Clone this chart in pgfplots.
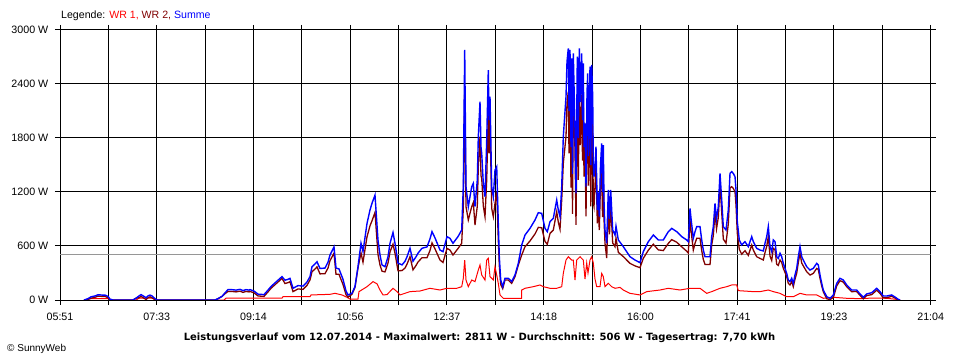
\documentclass[border=0pt]{standalone}
\usepackage{fontspec}
\setmainfont{Liberation Sans}
\newfontfamily\titlefont{DejaVu Sans}
\usepackage{pgfplots}
\usepackage{pgfplotstable}
\pgfplotsset{compat=1.18}
\definecolor{wrone}{RGB}{255,0,0}
\definecolor{wrtwo}{RGB}{128,0,0}
\definecolor{summe}{RGB}{0,0,255}
\definecolor{avgc}{RGB}{150,150,150}

% x = position on the time axis (05:51 ... 21:04 mapped to 60 ... 930.7), y = power in W
\pgfplotstableread{
x y
84 0
88 15
91 35
95 45
98 58
102 55
105 55
108 40
110 10
113 0
133 0
136 20
139 45
141 60
144 40
146 25
148 45
150 55
152 45
155 15
157 0
215 0
218 15
222 40
225 80
228 115
232 115
236 110
240 118
243 105
246 115
249 110
250 115
254 100
258 65
264 60
268 110
271 150
275 190
279 230
282 260
285 220
288 230
290 240
293 130
298 160
303 155
307 200
310 260
312 370
315 400
317 425
320 350
325 355
328 420
330 500
334 590
336 355
339 345
343 230
346 100
348 55
352 75
355 150
358 370
361 630
363 540
367 850
370 1000
372 1075
375 1165
378 665
380 500
382 390
385 370
388 480
390 630
393 750
395 630
398 410
402 390
405 430
407 480
410 575
413 430
416 480
418 520
422 575
427 590
430 680
432 760
435 690
440 555
443 537
447 704
450 685
453 630
458 704
461.7 778
463.3 1259
464.7 2778
466 1259
468.3 1037
470 1150
471.7 1259
473.3 1296
475 1037
477.3 1333
478.3 1815
480 2204
481 1700
481.7 1630
483.3 1296
485 1148
486.7 1778
488.3 2555
489 2000
490 2259
491.7 1259
493.3 1148
495 1444
496.7 1481
498.3 852
499.3 481
500.7 222
502.7 148
505 241
508.3 241
511.7 204
515 278
518.3 407
521.7 611
525 722
530 796
535 889
538.3 970
541.7 963
545 796
547.3 759
550 870
553.3 907
556.7 1111
558.3 1000
560 926
561.7 1259
563.3 1815
566 2259
567 2650
568.3 2796
569 2100
570 2778
571 1700
571.7 2685
572.5 1400
573.3 2741
575 1889
576 1185
577.3 2704
578.3 1800
579.3 2796
580.3 2200
581.7 2741
582.5 2000
583.3 2630
584 1700
585 1963
586 1259
587 2300
587.7 2519
588.5 1600
590 2593
590.8 1500
591.7 2611
592.7 2259
593.3 1500
594 1370
595 1500
596 1704
597.3 1000
598 1200
599.3 926
600.5 1500
601.7 1741
602.5 1200
603.3 1722
604 1100
605 778
606.7 630
608.3 1222
609.5 900
610.7 1222
612.7 778
615 722
616 820
618.3 667
623.3 593
630 481
635 444
640 415
643.3 537
648.3 648
653.3 722
658.3 667
663.3 667
668.3 759
671.7 796
676.7 759
681.7 704
686.7 667
688.3 648
690 1018
691 907
693.3 685
695 759
696.7 815
700 815
701.7 667
703.3 555
705 481
710 481
711.7 704
713.3 815
715 1074
716.5 900
718.3 1037
720 1407
721.7 1111
723.3 815
726 778
728.3 1000
730 1407
731.7 1426
733.3 1407
735 1370
736 1222
737.3 870
739.3 667
741.7 611
745 648
748.3 593
751.7 704
753.3 648
756.7 574
760 555
763.3 545
765 630
766.7 704
768.3 815
770 593
771.7 537
773.3 667
775 648
776.7 481
778.3 463
780 519
781.7 481
783.3 407
785 352
786.7 296
788.3 222
790 204
791.7 241
793.3 185
795 278
796.7 352
798.3 481
800 593
801.7 481
803.3 444
806.7 370
810 333
813.3 352
816.7 407
818.3 389
820 278
821.7 185
823.3 111
826.7 37
830 19
833.3 56
836.7 185
840 241
843.3 222
846.7 167
851.7 111
856.7 111
860 67
863.3 30
866.7 67
871.7 81
876.7 130
880 93
883.3 44
886.7 44
891.7 56
895 33
898.3 7
900 0
}\summetable

\pgfplotstableread{
x y
84 0
88 5
91 20
95 30
98 43
102 40
105 40
108 25
110 0
113 0
133 0
136 20
139 25
141 40
144 20
146 5
148 25
150 35
152 25
155 5
157 0
215 0
218 15
222 40
225 70
228 95
232 95
236 90
240 98
243 85
246 95
249 90
250 95
254 80
258 45
264 40
268 90
271 130
275 170
279 210
282 240
285 183
288 193
290 203
293 93
298 123
303 118
307 163
310 223
312 314
315 344
317 368
320 290
325 293
328 355
330 437
334 520
336 285
339 285
343 172
346 60
348 30
352 64
355 139
358 359
361 523
363 420
367 702
370 824
372 880
375 973
378 505
380 389
382 320
385 312
388 410
390 535
393 620
395 520
398 325
402 327
405 355
407 398
410 482
413 335
416 383
418 422
422 470
427 470
430 550
432 634
435 568
440 444
443 417
447 574
450 555
453 500
458 572
461.7 630
463.3 1018
464.7 2334
466 1037
468.3 889
470 965
471.7 1037
473.3 1083
475 833
477.3 1043
478.3 1482
480 1815
481 1380
481.7 1352
483.3 1046
485 926
486.7 1334
488.3 2092
489 1630
490 2000
491.7 1018
493.3 926
495 1074
496.7 1203
498.3 667
499.3 381
500.7 172
502.7 126
505 222
508.3 222
511.7 185
515 259
518.3 388
521.7 500
525 592
530 656
535 734
538.3 807
541.7 803
545 651
547.3 619
550 740
553.3 777
556.7 981
558.3 865
560 786
561.7 1111
563.3 1519
566 1815
567 2190
568.3 2315
569 1630
570 2318
571 1250
571.7 2241
572.5 956
573.3 2297
575 1667
576 835
577.3 2254
578.3 1335
579.3 2318
580.3 1720
581.7 2281
582.5 1550
583.3 2186
584 1370
585 1730
586 929
587 1920
587.7 2169
588.5 1270
590 2149
590.8 1040
591.7 2130
592.7 1819
593.3 1089
594 1040
595 1267
596 1524
597.3 852
598 1052
599.3 778
600.5 1300
601.7 1445
602.5 922
603.3 1463
604 900
605 630
606.7 465
608.3 1037
609.5 730
610.7 1062
612.7 633
615 592
616 688
618.3 530
623.3 482
630 407
635 379
640 359
643.3 463
648.3 553
653.3 620
658.3 557
663.3 549
668.3 629
671.7 671
676.7 642
681.7 591
686.7 542
688.3 521
690 888
691 777
693.3 555
695 629
696.7 685
700 685
701.7 550
703.3 451
705 395
710 394
711.7 611
713.3 717
715 970
716.5 790
718.3 917
720 1277
721.7 977
723.3 677
726 632
728.3 846
730 1247
731.7 1259
733.3 1240
735 1203
736 1055
737.3 740
739.3 563
741.7 509
745 548
748.3 496
751.7 610
753.3 555
756.7 481
760 462
763.3 445
765 526
766.7 596
768.3 704
770 488
771.7 439
773.3 574
775 558
776.7 397
778.3 384
780 445
781.7 416
783.3 352
785 306
786.7 259
788.3 185
790 167
791.7 204
793.3 148
795 232
796.7 297
798.3 416
800 519
801.7 411
803.3 379
806.7 314
810 277
813.3 296
816.7 351
818.3 339
820 240
821.7 157
823.3 92
826.7 14
830 5
833.3 26
836.7 157
840 215
843.3 199
846.7 148
851.7 93
856.7 94
860 52
863.3 13
866.7 49
871.7 60
876.7 109
880 73
883.3 24
886.7 25
891.7 41
895 22
898.3 2
900 0
}\wrtwotable

\pgfplotstableread{
x y
84 0
90 15
108 15
112 0
136 0
139 20
152 20
156 0
224 0
226 20
282 20
283 37
310 37
311 56
330 63
335 74
342 56
347 30
350 11
358 11
359 93
367 148
373 204
377 180
380 111
383 56
387 60
393 130
397 93
400 56
410 93
420 100
430 130
440 111
446.7 130
456.7 130
461.7 148
463.3 241
464.7 444
466 222
468.3 148
471.7 222
475 204
478.3 333
480 389
481.7 278
485 222
486.7 444
488.3 463
490 259
491.7 241
493.3 222
495 370
496.7 278
498.3 185
500 56
503.3 19
521.5 19
521.7 111
525 130
533.3 148
540 167
543.3 148
550 130
556.7 130
561.7 148
563.3 296
566 444
568.3 481
571.7 444
573.3 444
575 222
576.7 444
580 481
583.3 444
585 233
586.7 411
588 300
590 444
591.7 481
593.3 411
595 233
596.7 148
600 148
601.7 296
603.3 259
605 148
608.3 185
611.7 148
615 130
620 140
623.3 111
630 74
640 56
646.7 93
660 111
668.3 130
680 111
690 130
700 130
706.7 74
711.7 93
720 130
726.7 148
731.7 167
736.7 167
738.3 104
753.3 93
760 93
768.3 111
773.3 93
780 74
786.7 37
793.3 37
800 74
806.7 56
816.7 56
823.3 19
833.3 30
846.7 19
860 15
873.3 22
886.7 19
896.7 7
900 0
}\wronetable

\begin{document}
\fontsize{10.5bp}{12bp}\selectfont
\begin{tikzpicture}[x=1bp,y=1bp]
\begin{axis}[
  at={(0,0)}, anchor=south west,
  scale only axis, width=870.7bp, height=270bp,
  xmin=60, xmax=930.7, ymin=0, ymax=3000,
  axis line style={black, line width=1bp},
  xtick={60,108.37,156.74,205.12,253.49,301.86,350.23,398.6,446.98,495.35,543.72,592.09,640.47,688.84,737.21,785.58,833.96,882.33,930.7},
  xticklabels={05:51,,07:33,,09:14,,10:56,,12:37,,14:18,,16:00,,17:41,,19:23,,21:04},
  ytick={0,600,1200,1800,2400,3000},
  yticklabels={0 W,600 W,1200 W,1800 W,2400 W,3000 W},
  tick align=outside, major tick length=5bp,
  tick style={black, line width=1bp},
  tick label style={font=\fontsize{10.7bp}{12bp}\selectfont, text=black},
  xticklabel style={yshift=-4.5bp},
  yticklabel style={xshift=-3bp},
  xmajorgrids, ymajorgrids,
  major grid style={black, line width=1bp},
  clip=true,
]
\addplot[avgc, line width=1bp] coordinates {(60,506) (930.7,506)};
\addplot[wrone, line width=1bp, sharp plot] table {\wronetable};
\addplot[wrtwo, line width=1.3bp, sharp plot] table {\wrtwotable};
\addplot[summe, line width=1.4bp, sharp plot] table {\summetable};
\end{axis}
\node[anchor=west, inner sep=0pt] at (1bp,284bp) {\fontsize{10.6bp}{12bp}\selectfont Legende: \textcolor{wrone}{WR 1,} \textcolor{wrtwo}{WR 2,} \textcolor{summe}{Summe}};
\node[anchor=center, inner sep=0pt] at (419.5bp,-37.5bp) {\titlefont\fontsize{10bp}{11bp}\selectfont\bfseries Leistungsverlauf vom 12.07.2014 - Maximalwert: 2811 W - Durchschnitt: 506 W - Tagesertrag: 7,70 kWh};
\node[anchor=west, inner sep=0pt] at (-53bp,-49bp) {\fontsize{10bp}{11bp}\selectfont \textcopyright{} SunnyWeb};
\pgfresetboundingbox
\path[use as bounding box] (-60bp,-60bp) rectangle (900bp,300bp);
\end{tikzpicture}
\end{document}
